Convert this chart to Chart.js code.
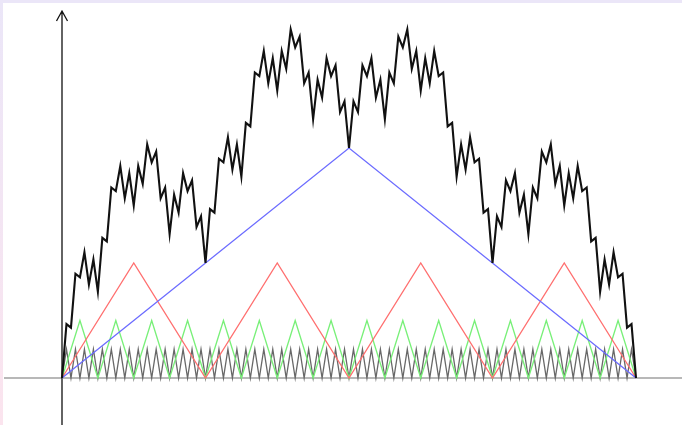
<!DOCTYPE html>
<html>
<head>
<meta charset="utf-8">
<title>Takagi curve</title>
<script src="https://cdn.jsdelivr.net/npm/chart.js@4.4.1/dist/chart.umd.min.js"></script>
<style>
  html, body { margin: 0; padding: 0; background: #fff; overflow: hidden; }
  #wrap { position: relative; width: 682px; height: 425px; }
</style>
</head>
<body>
<div id="wrap"><canvas id="takagi" width="682" height="425"></canvas></div>
<script>
// vertex heights of each triangle layer, evenly spaced over [0, 1]
const blueWave = [0, 64, 0];
const redWave = [0, 32, 0, 32, 0, 32, 0, 32, 0];
const greenWave = [
  0, 16, 0, 16, 0, 16, 0, 16, 0, 16, 0, 16, 0, 16, 0, 16,
  0, 16, 0, 16, 0, 16, 0, 16, 0, 16, 0, 16, 0, 16, 0, 16, 0
];
const grayWave = [
  0, 8, 0, 8, 0, 8, 0, 8, 0, 8, 0, 8, 0, 8, 0, 8, 0, 8, 0, 8, 0, 8, 0, 8, 0, 8, 0, 8, 0, 8, 0, 8,
  0, 8, 0, 8, 0, 8, 0, 8, 0, 8, 0, 8, 0, 8, 0, 8, 0, 8, 0, 8, 0, 8, 0, 8, 0, 8, 0, 8, 0, 8, 0, 8,
  0, 8, 0, 8, 0, 8, 0, 8, 0, 8, 0, 8, 0, 8, 0, 8, 0, 8, 0, 8, 0, 8, 0, 8, 0, 8, 0, 8, 0, 8, 0, 8,
  0, 8, 0, 8, 0, 8, 0, 8, 0, 8, 0, 8, 0, 8, 0, 8, 0, 8, 0, 8, 0, 8, 0, 8, 0, 8, 0, 8, 0, 8, 0, 8, 0
];

// the summed curve, left half (0 .. 1/2); the right half mirrors it
const curveLeft = [
   0, 15, 14, 29, 28, 35, 26, 33, 24, 39, 38, 53, 52, 59, 50, 57,
  48, 59, 54, 65, 60, 63, 50, 53, 40, 51, 46, 57, 52, 55, 42, 45,
  32, 47, 46, 61, 60, 67, 58, 65, 56, 71, 70, 85, 84, 91, 82, 89,
  80, 91, 86, 97, 92, 95, 82, 85, 72, 83, 78, 89, 84, 87, 74, 77, 64
];
const curve = curveLeft.concat(curveLeft.slice(0, -1).reverse());

function toPoints(values) {
  return values.map((v, i) => ({ x: i / (values.length - 1), y: v }));
}

// axes, arrow and the thin page frame are drawn by hand
const frame = {
  id: 'frame',
  beforeDraw(chart) {
    const { ctx, width, height } = chart;
    ctx.save();
    ctx.fillStyle = '#fff';
    ctx.fillRect(0, 0, width, height);
    const g = ctx.createLinearGradient(0, 0, 0, height);
    g.addColorStop(0, '#ebe6f8');
    g.addColorStop(1, '#fbe4ee');
    ctx.fillStyle = g;
    ctx.fillRect(0, 0, 3, height);
    ctx.fillStyle = '#ebe6f8';
    ctx.fillRect(0, 0, width, 3);
    ctx.restore();
  },
  beforeDatasetsDraw(chart) {
    const { ctx, width, height } = chart;
    const x0 = chart.scales.x.getPixelForValue(0);
    const y0 = chart.scales.y.getPixelForValue(0);
    ctx.save();
    ctx.lineWidth = 1.5;
    ctx.strokeStyle = '#a0a0a0';
    ctx.beginPath();
    ctx.moveTo(4, y0);
    ctx.lineTo(width, y0);
    ctx.stroke();

    ctx.strokeStyle = '#111';
    ctx.lineWidth = 1.3;
    ctx.beginPath();
    ctx.moveTo(x0, 11);
    ctx.lineTo(x0, height);
    ctx.moveTo(x0 - 5.5, 21);
    ctx.lineTo(x0, 11);
    ctx.lineTo(x0 + 5.5, 21);
    ctx.stroke();
    ctx.restore();
  }
};

const line = (data, color, width, order) => ({
  data: toPoints(data),
  borderColor: color,
  borderWidth: width,
  pointRadius: 0,
  tension: 0,
  fill: false,
  order: order
});

new Chart(document.getElementById('takagi'), {
  type: 'line',
  data: {
    datasets: [
      line(curve, '#111', 2.1, 0),
      line(blueWave, '#6c6cff', 1.3, 1),
      line(redWave, '#ff6f6f', 1.3, 2),
      line(greenWave, '#78f078', 1.3, 3),
      line(grayWave, '#686868', 1.3, 4)
    ]
  },
  options: {
    responsive: false,
    animation: false,
    events: [],
    layout: { padding: 0 },
    plugins: { legend: { display: false }, tooltip: { enabled: false } },
    scales: {
      x: { type: 'linear', display: false, min: -62 / 574, max: 1 + 46 / 574 },
      y: { type: 'linear', display: false, min: -47 * 64 / 230, max: 378 * 64 / 230 }
    }
  },
  plugins: [frame]
});
</script>
</body>
</html>
